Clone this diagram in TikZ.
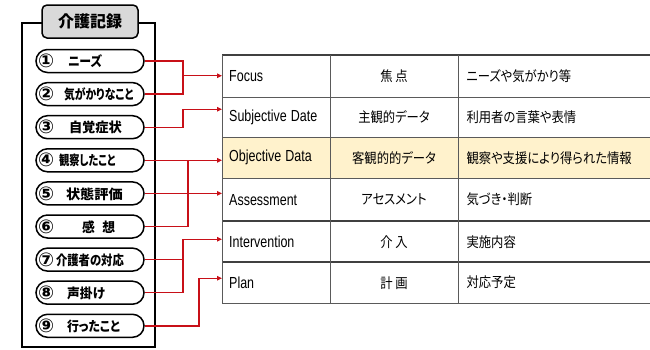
\documentclass[tikz,border=0pt]{standalone}
\usepackage{fontspec}
\setmainfont{Liberation Sans}
\newfontfamily\lat{Liberation Sans}
\newfontfamily\jp[RawFeature=+palt]{Noto Sans CJK JP}
\newfontfamily\dvs{DejaVu Sans}
\usetikzlibrary{arrows.meta}
\definecolor{conred}{RGB}{200,16,24}
\definecolor{hilite}{RGB}{255,242,204}
\definecolor{titlegray}{RGB}{217,217,217}
\definecolor{tline}{RGB}{90,90,90}
\tikzset{
  oval/.style={draw=black, line width=1.5pt, rounded corners=11.5pt, minimum width=108pt, minimum height=23pt,
    text width=104pt, inner xsep=2pt, inner ysep=0pt, align=left, font=\jp\bfseries\fontsize{13.5}{14}\selectfont},
  cellA/.style={minimum width=108pt, inner xsep=7pt, text width=94pt, align=left, inner ysep=0pt,
    anchor=north west, font=\lat\fontsize{16}{17}\selectfont},
  cellB/.style={font=\jp\fontsize{14}{15}\selectfont},
  cellC/.style={anchor=west, font=\jp\fontsize{14}{15}\selectfont},
  rl/.style={draw=conred, line width=1.4pt},
  arr/.style={-{Triangle[length=5pt,width=4.5pt]}},
  tl/.style={draw=tline, line width=1pt},
  tlk/.style={draw=black!75, line width=1.6pt}
}
\newcommand{\num}[2]{\makebox[#1pt][l]{\raisebox{-1pt}{\dvs\bfseries\fontsize{19}{19}\selectfont #2}}}
\newcommand{\jt}[1]{\scalebox{0.88}[1]{#1}}
\newcommand{\js}[2]{\scalebox{#1}[1]{#2}}
\newcommand{\lt}[1]{\scalebox{0.78}[1]{#1}}
\begin{document}
\begin{tikzpicture}[x=1pt,y=-1pt]
\useasboundingbox (0,0) rectangle (650,349);
% ---------- table ----------
\fill[hilite] (222,137) rectangle (650,178);
\node[cellA, minimum height=42pt] (r1) at (222,55) {\lt{Focus}};
\node[cellA, minimum height=40pt] (r2) at (222,97) {\lt{Subjective Date}};
\node[cellA, minimum height=41pt] (r3) at (222,137) {\lt{Objective Data}};
\node[cellA, minimum height=43pt] (r4) at (222,178) {\lt{Assessment}};
\node[cellA, minimum height=41pt] (r5) at (222,221) {\lt{Intervention}};
\node[cellA, minimum height=41pt] (r6) at (222,262) {\lt{Plan}};
\node[cellB] (c1) at (394,0 |- r1) {\jt{焦 点}};
\node[cellB] (c2) at (394,0 |- r2) {\jt{主観的データ}};
\node[cellB] (c3) at (394,0 |- r3) {\jt{客観的的データ}};
\node[cellB] (c4) at (394,0 |- r4) {\jt{アセスメント}};
\node[cellB] (c5) at (394,0 |- r5) {\jt{介 入}};
\node[cellB] (c6) at (394,0 |- r6) {\jt{計 画}};
\node[cellC] (d1) at (463,0 |- r1) {\jt{ニーズや気がかり等}};
\node[cellC] (d2) at (463,0 |- r2) {\jt{利用者の言葉や表情}};
\node[cellC] (d3) at (463,0 |- r3) {\jt{観察や支援により得られた情報}};
\node[cellC] (d4) at (463,0 |- r4) {\jt{気づき・判断}};
\node[cellC] (d5) at (463,0 |- r5) {\jt{実施内容}};
\node[cellC] (d6) at (463,0 |- r6) {\jt{対応予定}};
\draw[tl] (222,97) -- (650,97);
\draw[tl] (222,137) -- (650,137);
\draw[tl] (222,178) -- (650,178);
\draw[tl] (222,303) -- (650,303);
\draw[tlk] (222,55) -- (650,55);
\draw[tlk] (222,221) -- (650,221);
\draw[tlk] (222,262) -- (650,262);
\draw[tl] (222,55) -- (222,303);
\draw[tl] (330,55) -- (330,303);
\draw[tl] (458,55) -- (458,303);
% ---------- left panel ----------
\draw[black, line width=1.5pt] (22,23) rectangle (155,347);
\node[draw=black, line width=1.5pt, fill=titlegray, rounded corners=5pt, minimum width=96pt, minimum height=33pt,
  font=\jp\bfseries\fontsize{16}{17}\selectfont] (title) at (90,21.5) {介護記録};
\node[oval] (o1) at (90,61)    {\num{30}{①}\js{0.88}{ニーズ}};
\node[oval] (o2) at (90,94.1)  {\num{26}{②}\js{0.80}{気がかりなこと}};
\node[oval] (o3) at (90,127.2) {\num{31}{③}\js{0.98}{自覚症状}};
\node[oval] (o4) at (90,160.3) {\num{21}{④}\js{0.76}{観察したこと}};
\node[oval] (o5) at (90,193.4) {\num{28}{⑤}\js{1.05}{状態評価}};
\node[oval] (o6) at (90,226.5) {\num{44}{⑥}\js{0.95}{感\hspace{8pt}想}};
\node[oval] (o7) at (90,259.6) {\num{18}{⑦}\js{0.84}{介護者の対応}};
\node[oval] (o8) at (90,292.7) {\num{29}{⑧}\js{0.95}{声掛け}};
\node[oval] (o9) at (90,325.8) {\num{29}{⑨}\js{0.88}{行ったこと}};
% ---------- connectors ----------
\coordinate (ja) at (183,0);
\coordinate (jc) at (188,0);
\coordinate (jd) at (199,0);
\coordinate (t1) at ([yshift=0.5pt]r1.west);
\coordinate (t2) at ([yshift=8pt]r2.west);
\coordinate (t5) at ([yshift=2.5pt]r5.west);
\coordinate (t6) at ([yshift=4.5pt]r6.west);
\draw[rl] (o1.east) -| (ja |- o2.east) -- (o2.east);
\draw[rl,arr] (ja |- t1) -- (t1);
\draw[rl,arr] (o3.east) -| (ja |- t2) -- (t2);
\draw[rl,arr] (o4.east) -- (o4.east -| r3.west);
\draw[rl] (o6.east) -| (jc |- o4.east);
\draw[rl,arr] (o5.east) -- (o5.east -| r4.west);
\draw[rl] (o7.east) -- (o7.east -| ja);
\draw[rl,arr] (o8.east) -| (ja |- t5) -- (t5);
\draw[rl,arr] (o9.east) -| (jd |- t6) -- (t6);
\end{tikzpicture}
\end{document}
